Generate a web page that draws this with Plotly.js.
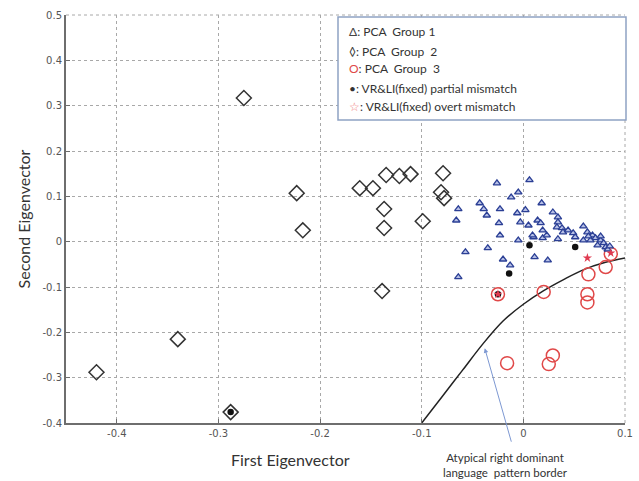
<!DOCTYPE html>
<html><head><meta charset="utf-8">
<script src="https://cdn.plot.ly/plotly-3.0.1.min.js"></script>
<style>body{margin:0;background:#fff}#chart{width:639px;height:481px}</style>
</head><body><div id="chart"></div>
<script>
// PCA Group 1 (triangles)
const group1X = [-0.026,0.006,-0.005,-0.012,-0.064,-0.043,-0.039,-0.036,-0.023,-0.066,-0.024,-0.023,-0.006,0.002,-0.003,0.005,0.018,0.014,0.017,0.010,0.019,0.019,0.029,0.034,0.034,0.033,0.038,0.039,0.044,0.049,0.051,0.034,0.059,0.063,0.068,0.071,0.076,0.079,0.081,0.083,0.073,0.059,-0.057,-0.035,-0.020,-0.013,-0.064,0.011,0.024,-0.005,0.009,0.023,0.066,0.076,0.085,0.064];
const group1Y = [0.129,0.136,0.109,0.098,0.072,0.085,0.072,0.058,0.072,0.047,0.041,0.014,0.063,0.070,0.043,0.036,0.085,0.047,0.041,0.010,0.025,0.008,0.065,0.054,0.043,0.032,0.030,0.021,0.025,0.019,0.010,0.006,0.034,0.021,0.014,0.008,0.003,-0.003,-0.012,-0.017,-0.008,0.003,-0.023,-0.014,-0.039,-0.052,-0.078,-0.034,-0.041,0.003,0.014,0.014,0.003,0.012,-0.010,0.012];
// PCA Group 2 (diamonds)
const group2X = [-0.275,-0.223,-0.217,-0.420,-0.340,-0.288,-0.161,-0.148,-0.135,-0.122,-0.111,-0.079,-0.081,-0.078,-0.137,-0.137,-0.099,-0.139];
const group2Y = [0.317,0.107,0.025,-0.288,-0.215,-0.376,0.118,0.118,0.147,0.145,0.149,0.151,0.109,0.096,0.072,0.030,0.045,-0.109];
// PCA Group 3 (circles)
const group3X = [0.020,0.063,0.063,0.064,0.081,-0.016,0.025,0.029,-0.025,0.086];
const group3Y = [-0.111,-0.116,-0.134,-0.072,-0.056,-0.268,-0.270,-0.251,-0.116,-0.027];
// VR&LI(fixed) partial mismatch (dots)
const partialX = [0.006,0.051,-0.014,-0.025,-0.288];
const partialY = [-0.008,-0.012,-0.070,-0.116,-0.376];
// VR&LI(fixed) overt mismatch (stars)
const overtX = [0.063,0.086,-0.025];
const overtY = [-0.036,-0.025,-0.116];
// Atypical right dominant language pattern border
const borderX = [-0.1,-0.08,-0.06,-0.04,-0.02,0,0.02,0.04,0.06,0.08,0.1];
const borderY = [-0.4,-0.342,-0.284,-0.226,-0.175,-0.138,-0.108,-0.083,-0.061,-0.046,-0.036];
// ticks
const xTicks = [-0.4,-0.3,-0.2,-0.1,0,0.1];
const xTickText = ['-0.4','-0.3','-0.2','-0.1','0','0.1'];
const yTicks = [-0.4,-0.3,-0.2,-0.1,0,0.1,0.2,0.3,0.4,0.5];
const yTickText = ['-0.4','-0.3','-0.2','-0.1','0','0.1','0.2','0.3','0.4','0.5'];

const traces = [
  {x: borderX, y: borderY, mode:'lines', line:{color:'#222', width:1.5, shape:'spline'}, name:'border'},
  {x: group2X, y: group2Y, mode:'markers', marker:{symbol:'diamond-open', size:11.5, color:'#333', line:{width:1.5, color:'#333'}}, name:'PCA Group 2'},
  {x: group3X, y: group3Y, mode:'markers', marker:{symbol:'circle-open', size:13, color:'#e04848', line:{width:1.5, color:'#e04848'}}, name:'PCA Group 3'},
  {x: group1X, y: group1Y, mode:'markers', marker:{symbol:'triangle-up', size:6.5, color:'#b7c0e6', line:{width:1.3, color:'#2b3f95'}}, name:'PCA Group 1'},
  {x: partialX, y: partialY, mode:'markers', marker:{symbol:'circle', size:6.5, color:'#111'}, name:'partial mismatch'},
  {x: overtX, y: overtY, mode:'markers', marker:{symbol:'star', size:7, color:'#e03a50', line:{width:0}}, name:'overt mismatch'}
];

const px = p => (p-66)/559, py = p => (423-p)/408;
const legFont = {family:'Lato, "Open Sans", sans-serif', size:12, color:'#333'};
const legLines = [
  '<span style="color:#444">Δ</span>: PCA  Group 1',
  '◊: PCA  Group  2',
  '<span style="color:#e04848">O</span>: PCA  Group  3',
  '•: VR&amp;LI(fixed) partial mismatch',
  '<span style="color:#f08080">☆</span>: VR&amp;LI(fixed) overt mismatch'
];
const legY = [32,51,69,88,106];
const annotations = legLines.map((t,i)=>({xref:'paper', yref:'paper', x:px(347), y:py(legY[i]), xanchor:'left', yanchor:'middle', text:t, showarrow:false, font:legFont}));
annotations.push({xref:'paper', yref:'paper', x:px(290), y:py(460), xanchor:'center', yanchor:'middle', text:'First Eigenvector', showarrow:false, font:{family:'Lato, sans-serif', size:16, color:'#333'}});
annotations.push({xref:'paper', yref:'paper', x:px(505), y:py(465), xanchor:'center', yanchor:'middle', text:'Atypical right dominant<br>language  pattern border', showarrow:false, font:{family:'Lato, sans-serif', size:11.5, color:'#333'}});
annotations.push({x:-0.038, y:-0.235, ax:27, ay:95, text:'', showarrow:true, arrowhead:2, arrowsize:0.9, arrowwidth:1, arrowcolor:'#7d98d2'});

const axisCommon = {showgrid:true, gridcolor:'#a8a8a8', griddash:'dot', gridwidth:1, zeroline:false, showline:true, linecolor:'#6e6e6e', linewidth:2, ticks:'inside', ticklen:4, tickcolor:'#6e6e6e', tickfont:{family:'DejaVu Sans', size:10, color:'#555'}};
const layout = {
  width:639, height:481,
  margin:{l:66, r:14, t:15, b:58},
  paper_bgcolor:'#fff', plot_bgcolor:'#fff',
  showlegend:false,
  xaxis:Object.assign({range:[-0.45,0.1], tickvals:xTicks, ticktext:xTickText}, axisCommon),
  yaxis:Object.assign({range:[-0.4,0.5], tickvals:yTicks, ticktext:yTickText,
    title:{text:'Second Eigenvector', font:{family:'Lato, sans-serif', size:16, color:'#333'}, standoff:8}}, axisCommon),
  shapes:[
    {type:'line', xref:'paper', yref:'paper', x0:0, x1:1, y0:1, y1:1, line:{color:'#a8a8a8', width:1, dash:'dot'}, layer:'below'},
    {type:'line', xref:'paper', yref:'paper', x0:1, x1:1, y0:0, y1:1, line:{color:'#a8a8a8', width:1, dash:'dot'}, layer:'below'},
    {type:'rect', xref:'paper', yref:'paper', x0:px(338), x1:px(626), y0:py(120), y1:py(17), line:{color:'#8ea2c4', width:1.5}, fillcolor:'#fff', layer:'above'}
  ],
  annotations: annotations
};
Plotly.newPlot('chart', traces, layout, {displayModeBar:false, staticPlot:true});
</script>
</body></html>
